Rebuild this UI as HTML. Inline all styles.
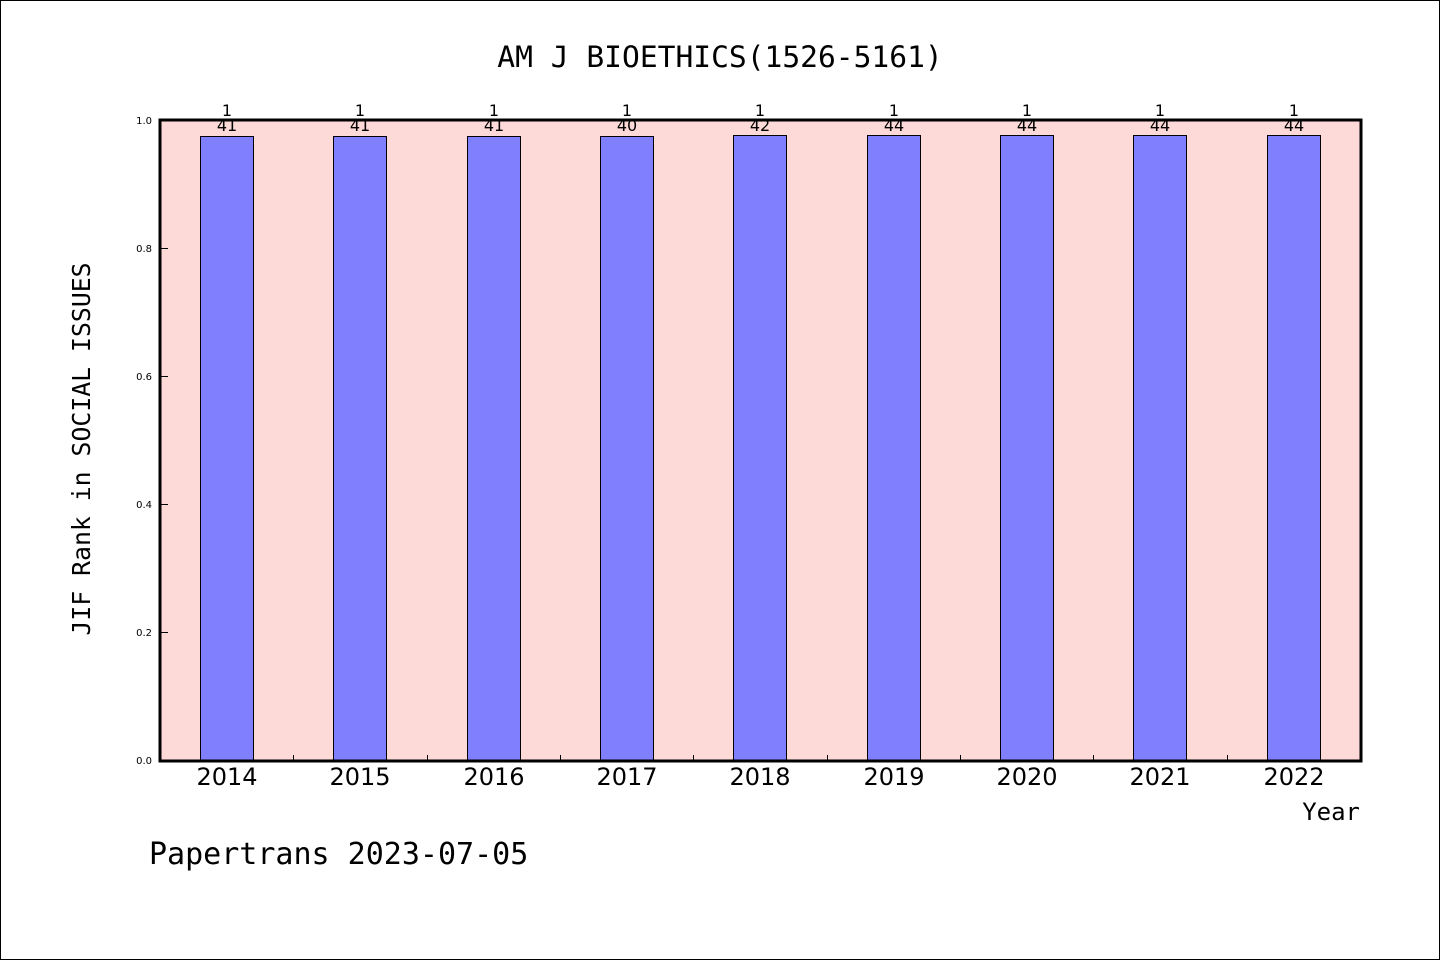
<!DOCTYPE html>
<html><head><style>body{margin:0;background:#fff}svg{display:block}</style></head><body>
<svg width="1440" height="960" xmlns="http://www.w3.org/2000/svg" font-family="'DejaVu Sans Mono','Liberation Mono',monospace">
<rect x="0.5" y="0.5" width="1439" height="959" fill="#fff" stroke="#000"/>
<text x="720" y="67" font-size="29.6" text-anchor="middle">AM J BIOETHICS(1526-5161)</text>
<rect x="160" y="120" width="1201" height="641" fill="#fdd9d7"/>
<g fill="#8080ff" stroke="#000" stroke-width="1">
<rect x="200.5" y="136.5" width="53" height="624"/>
<rect x="333.5" y="136.5" width="53" height="624"/>
<rect x="467.5" y="136.5" width="53" height="624"/>
<rect x="600.5" y="136.5" width="53" height="624"/>
<rect x="733.5" y="135.5" width="53" height="625"/>
<rect x="867.5" y="135.5" width="53" height="625"/>
<rect x="1000.5" y="135.5" width="53" height="625"/>
<rect x="1133.5" y="135.5" width="53" height="625"/>
<rect x="1267.5" y="135.5" width="53" height="625"/>
</g>
<g stroke="#000" stroke-width="1">
<line x1="293.5" y1="761" x2="293.5" y2="755"/><line x1="427.5" y1="761" x2="427.5" y2="755"/>
<line x1="560.5" y1="761" x2="560.5" y2="755"/><line x1="693.5" y1="761" x2="693.5" y2="755"/>
<line x1="827.5" y1="761" x2="827.5" y2="755"/><line x1="960.5" y1="761" x2="960.5" y2="755"/>
<line x1="1093.5" y1="761" x2="1093.5" y2="755"/><line x1="1227.5" y1="761" x2="1227.5" y2="755"/>
<line x1="160" y1="248.5" x2="168" y2="248.5"/><line x1="160" y1="376.5" x2="168" y2="376.5"/>
<line x1="160" y1="504.5" x2="168" y2="504.5"/><line x1="160" y1="632.5" x2="168" y2="632.5"/>
</g>
<rect x="160" y="120" width="1201" height="641" fill="none" stroke="#000" stroke-width="3"/>
<g font-size="10" text-anchor="end" font-family="'DejaVu Sans','Liberation Sans',sans-serif">
<text x="152" y="124">1.0</text><text x="152" y="252">0.8</text><text x="152" y="380">0.6</text>
<text x="152" y="508">0.4</text><text x="152" y="636">0.2</text><text x="152" y="764">0.0</text>
</g>
<g font-size="16" text-anchor="middle" font-family="'DejaVu Sans','Liberation Sans',sans-serif">
<text x="227" y="116">1</text><text x="227" y="131">41</text>
<text x="360" y="116">1</text><text x="360" y="131">41</text>
<text x="494" y="116">1</text><text x="494" y="131">41</text>
<text x="627" y="116">1</text><text x="627" y="131">40</text>
<text x="760" y="116">1</text><text x="760" y="131">42</text>
<text x="894" y="116">1</text><text x="894" y="131">44</text>
<text x="1027" y="116">1</text><text x="1027" y="131">44</text>
<text x="1160" y="116">1</text><text x="1160" y="131">44</text>
<text x="1294" y="116">1</text><text x="1294" y="131">44</text>
</g>
<g font-size="24" text-anchor="middle" font-family="'DejaVu Sans','Liberation Sans',sans-serif">
<text x="227" y="785">2014</text><text x="360" y="785">2015</text><text x="494" y="785">2016</text>
<text x="627" y="785">2017</text><text x="760" y="785">2018</text><text x="894" y="785">2019</text>
<text x="1027" y="785">2020</text><text x="1160" y="785">2021</text><text x="1294" y="785">2022</text>
</g>
<text x="1360" y="820" font-size="24" text-anchor="end">Year</text>
<text x="149" y="864" font-size="30">Papertrans 2023-07-05</text>
<text transform="translate(90,449) rotate(-90)" font-size="24.8" text-anchor="middle">JIF Rank in SOCIAL ISSUES</text>
</svg>
</body></html>
